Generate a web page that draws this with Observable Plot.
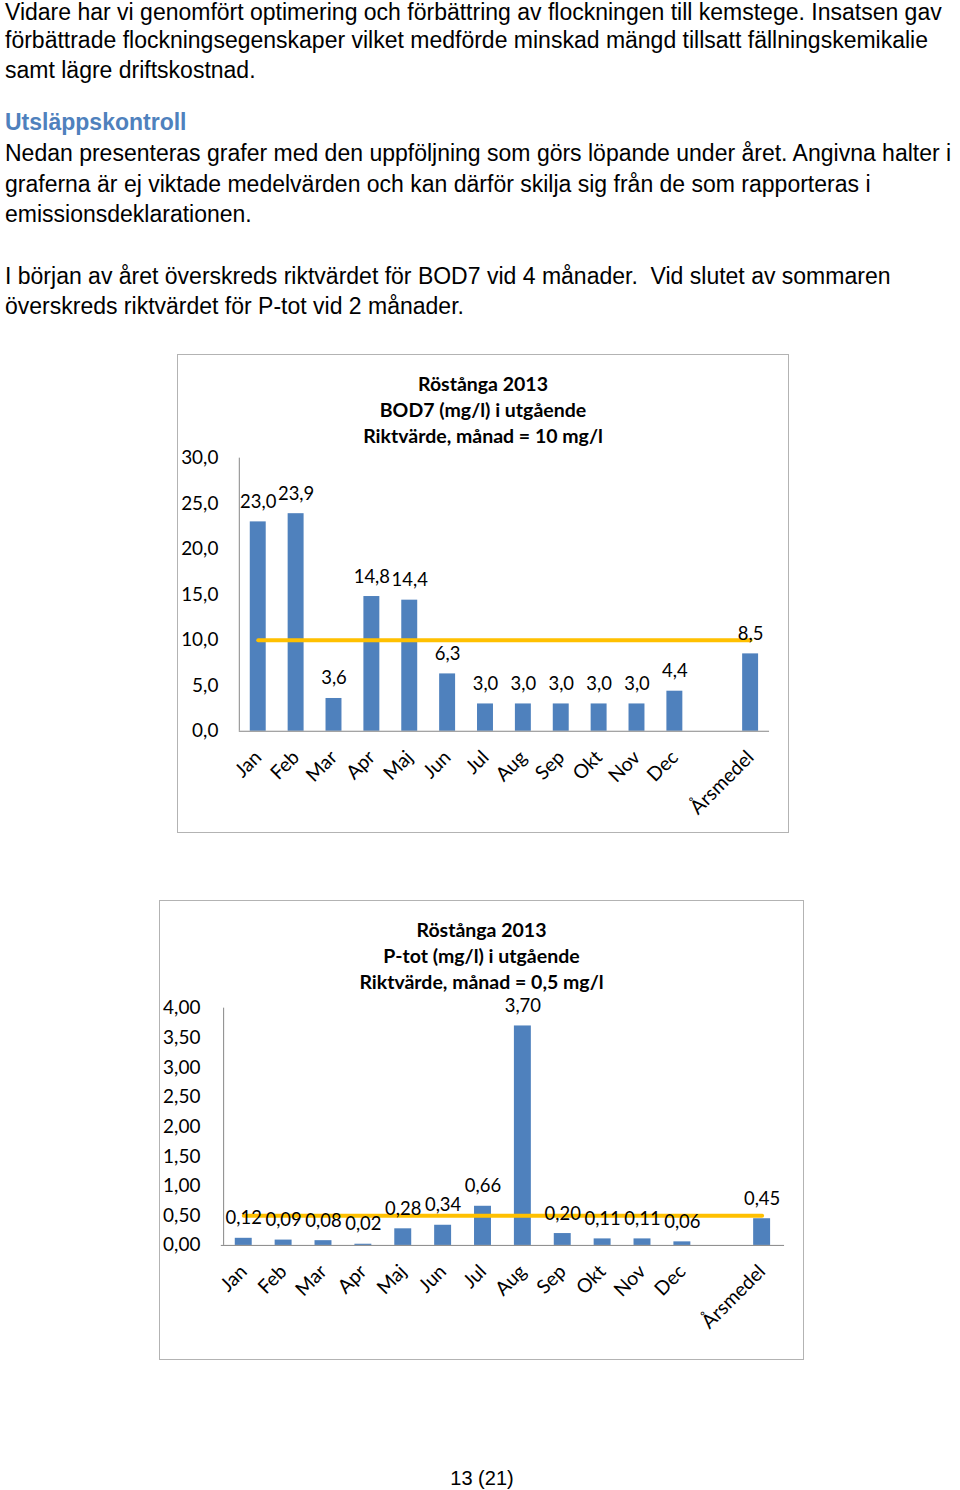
<!DOCTYPE html>
<html>
<head>
<meta charset="utf-8">
<script src="https://cdn.jsdelivr.net/npm/d3@7"></script>
<script src="https://cdn.jsdelivr.net/npm/@observablehq/plot@0.6"></script>
<style>
  html, body { margin: 0; padding: 0; background: #fff; }
  body { width: 960px; height: 1490px; position: relative; overflow: hidden; font-family: "Liberation Sans", Arial, sans-serif; color: #000; }
  .ln { position: absolute; left: 5px; height: 30px; line-height: 30px; font-size: 23px; white-space: pre; }
  .hd { color: #4F81BD; font-weight: bold; }
  .box { position: absolute; border: 1.5px solid #b3b3b3; box-sizing: border-box; background: #fff; }
  .box svg { position: absolute; left: 0; top: 0; overflow: visible; }
  .ttl { position: absolute; left: 0; right: 0; top: 16px; text-align: center; font-family: Lato, sans-serif; font-weight: bold; font-size: 19.5px; line-height: 26px; color: #000; z-index: 2; }
  .pg { position: absolute; left: 0; width: 964px; text-align: center; top: 1464px; font-size: 20px; line-height: 28px; }
</style>
</head>
<body>
<div class="ln" style="top:-3px">Vidare har vi genomfört optimering och förbättring av flockningen till kemstege. Insatsen gav</div>
<div class="ln" style="top:25px">förbättrade flockningsegenskaper vilket medförde minskad mängd tillsatt fällningskemikalie</div>
<div class="ln" style="top:55px">samt lägre driftskostnad.</div>
<div class="ln hd" style="top:107px">Utsläppskontroll</div>
<div class="ln" style="top:138px">Nedan presenteras grafer med den uppföljning som görs löpande under året. Angivna halter i</div>
<div class="ln" style="top:169px">graferna är ej viktade medelvärden och kan därför skilja sig från de som rapporteras i</div>
<div class="ln" style="top:199px">emissionsdeklarationen.</div>
<div class="ln" style="top:261px">I början av året överskreds riktvärdet för BOD7 vid 4 månader.  Vid slutet av sommaren</div>
<div class="ln" style="top:291px">överskreds riktvärdet för P-tot vid 2 månader.</div>

<div class="box" id="c1" style="left:177px; top:354px; width:612px; height:479px;">
  <div class="ttl">Röstånga 2013<br>BOD7 (mg/l) i utgående<br>Riktvärde, månad = 10 mg/l</div>
</div>
<div class="box" id="c2" style="left:159px; top:900px; width:645px; height:460px;">
  <div class="ttl">Röstånga 2013<br>P-tot (mg/l) i utgående<br>Riktvärde, månad = 0,5 mg/l</div>
</div>
<div class="pg">13 (21)</div>

<script>
// ---- data ----
const categories = ["Jan","Feb","Mar","Apr","Maj","Jun","Jul","Aug","Sep","Okt","Nov","Dec","Årsmedel"];
const gapKey = "";  // empty slot between Dec and Årsmedel
const bod7 = [23.0, 23.9, 3.6, 14.8, 14.4, 6.3, 3.0, 3.0, 3.0, 3.0, 3.0, 4.4, 8.5];
const ptot = [0.12, 0.09, 0.08, 0.02, 0.28, 0.34, 0.66, 3.70, 0.20, 0.11, 0.11, 0.06, 0.45];
const bod7Ticks = [0, 5, 10, 15, 20, 25, 30];
const ptotTicks = [0, 0.5, 1, 1.5, 2, 2.5, 3, 3.5, 4];
const bod7Limit = 10;
const ptotLimit = 0.5;

const xDomain = [...categories.slice(0, 12), gapKey, categories[12]];
const BLUE = "#4F81BD", GOLD = "#FFC000", AXIS = "#868686";

function makeChart({values, ticks, limit, digits, width, height, mt, mb, ml, mr}) {
  const fmt = v => v.toFixed(digits).replace(".", ",");
  const data = categories.map((c, i) => ({cat: c, v: values[i]}));
  const step = (width - ml - mr) / xDomain.length;
  return Plot.plot({
    width, height,
    marginTop: mt, marginBottom: mb, marginLeft: ml, marginRight: mr,
    style: {fontFamily: "Lato, sans-serif", fontSize: "18px", color: "#000", background: "transparent", overflow: "visible"},
    x: {domain: xDomain, paddingInner: 0.58, paddingOuter: 0.29, label: null},
    y: {domain: [ticks[0], ticks[ticks.length - 1]], label: null},
    marks: [
      Plot.barY(data, {x: "cat", y: "v", fill: BLUE}),
      Plot.ruleY([0], {stroke: AXIS, strokeWidth: 1}),
      Plot.ruleX([xDomain[0]], {y1: ticks[0], y2: ticks[ticks.length - 1], dx: -step / 2, stroke: AXIS, strokeWidth: 1}),
      Plot.lineY(data, {x: "cat", y: () => limit, stroke: GOLD, strokeWidth: 4}),
      Plot.text(data, {x: "cat", y: "v", text: d => fmt(d.v), dy: -20, fontSize: 18.5, fill: "#000"}),
      Plot.axisY({ticks, tickSize: 0, tickPadding: 21, tickFormat: fmt, fontSize: 19, label: null}),
      Plot.axisX({tickRotate: -45, tickSize: 0, tickPadding: 23, fontSize: 19.5, label: null, tickFormat: d => d})
    ]
  });
}

document.getElementById("c1").appendChild(makeChart({
  values: bod7, ticks: bod7Ticks, limit: bod7Limit, digits: 1,
  width: 612, height: 479, mt: 103, mb: 102, ml: 61, mr: 19
}));
document.getElementById("c2").appendChild(makeChart({
  values: ptot, ticks: ptotTicks, limit: ptotLimit, digits: 2,
  width: 645, height: 460, mt: 107, mb: 115, ml: 61, mr: 19
}));
</script>
</body>
</html>
